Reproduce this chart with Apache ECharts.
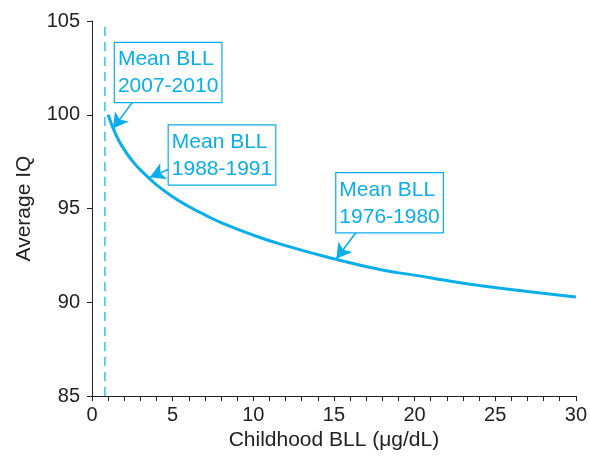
<!DOCTYPE html>
<html>
<head>
<meta charset="utf-8">
<script src="https://cdn.jsdelivr.net/npm/echarts@6/dist/echarts.min.js"></script>
<style>
html,body{margin:0;padding:0;background:#fff;}
#c{width:590px;height:456px;}
</style>
</head>
<body>
<div id="c"></div>
<script>
// Data
var bll = [1, 1.5, 2, 2.5, 3, 3.6, 4, 5, 6, 7, 8, 10, 12, 15, 18, 20, 22, 24, 27, 30];
var iq  = [100, 98.9, 98.14, 97.54, 97.06, 96.57, 96.26, 95.63, 95.11, 94.66, 94.25, 93.58, 93.02, 92.32, 91.72, 91.45, 91.16, 90.90, 90.58, 90.29];
var meanBll20072010 = 0.8;
var xTicks = [0, 5, 10, 15, 20, 25, 30];
var yTicks = [85, 90, 95, 100, 105];
var annoText = ['Mean BLL\n2007-2010', 'Mean BLL\n1988-1991', 'Mean BLL\n1976-1980'];
var annoBox = [[1.42, 103.83], [4.76, 99.43], [15.15, 96.88]];
var arrowFrom = [[2.54, 100.70], [4.76, 97.10], [16.39, 93.75]];
var arrowTo = [[1.30, 99.27], [3.59, 96.67], [15.15, 92.32]];

var CYAN = '#0AAEEA';
var DASH = '#3DBDEE';
var FONT = 'Liberation Sans, Arial, sans-serif';

var chart = echarts.init(document.getElementById('c'), null, {renderer: 'canvas'});
var points = bll.map(function (b, i) { return [b, iq[i]]; });
var arrows = arrowFrom.map(function (f, i) { return [{coord: f}, {coord: arrowTo[i]}]; });
var dashData = [[meanBll20072010, yTicks[0]], [meanBll20072010, yTicks[yTicks.length - 1]]];

chart.setOption({
  animation: false,
  backgroundColor: '#fff',
  color: [CYAN, CYAN, DASH],
  grid: {left: 92, right: 13, top: 21, bottom: 58},
  xAxis: {
    type: 'value', min: xTicks[0], max: xTicks[xTicks.length - 1], interval: 1,
    name: 'Childhood BLL (μg/dL)', nameLocation: 'middle', nameGap: 33,
    nameTextStyle: {fontFamily: FONT, fontSize: 21, color: '#222'},
    axisLine: {show: true, lineStyle: {color: '#222', width: 1}},
    axisTick: {show: true, length: 5, lineStyle: {color: '#222', width: 1}},
    axisLabel: {
      fontFamily: FONT, fontSize: 20, color: '#222', margin: 9,
      formatter: function (v) { return xTicks.indexOf(v) >= 0 ? String(v) : ''; }
    },
    splitLine: {show: false}
  },
  yAxis: {
    type: 'value', min: yTicks[0], max: yTicks[yTicks.length - 1], interval: 5,
    name: 'Average IQ', nameLocation: 'middle', nameGap: 57,
    nameTextStyle: {fontFamily: FONT, fontSize: 21, color: '#222'},
    axisLine: {show: true, lineStyle: {color: '#222', width: 1}},
    axisTick: {show: true, length: 5, lineStyle: {color: '#222', width: 1}},
    axisLabel: {fontFamily: FONT, fontSize: 20, color: '#222', margin: 12},
    splitLine: {show: false}
  },
  series: [{
    type: 'line',
    data: dashData,
    symbol: 'none',
    silent: true,
    z: 1,
    lineStyle: {color: DASH, width: 1.5, type: [9, 6]}
  }, {
    type: 'line',
    data: points,
    smooth: true,
    symbol: 'none',
    silent: true,
    z: 2,
    lineStyle: {color: CYAN, width: 3}
  }, {
    type: 'line',
    data: [],
    symbol: 'none',
    z: 3,
    markLine: {
      silent: true,
      symbol: ['none', 'arrow'],
      symbolSize: [13, 15],
      label: {show: false},
      itemStyle: {color: CYAN},
      lineStyle: {color: CYAN, width: 1.6, type: 'solid'},
      emphasis: {disabled: true},
      data: arrows
    }
  }]
});

var graphics = annoText.map(function (t, i) {
  var p = chart.convertToPixel({gridIndex: 0}, annoBox[i]);
  return {
    type: 'text',
    x: p[0], y: p[1],
    style: {
      text: t,
      fill: CYAN,
      font: '21px ' + FONT,
      lineHeight: 27,
      padding: [3, 3, 2, 3],
      borderColor: CYAN,
      borderWidth: 1.2,
      backgroundColor: '#fff'
    },
    z: 100
  };
});
chart.setOption({graphic: graphics});
</script>
</body>
</html>
